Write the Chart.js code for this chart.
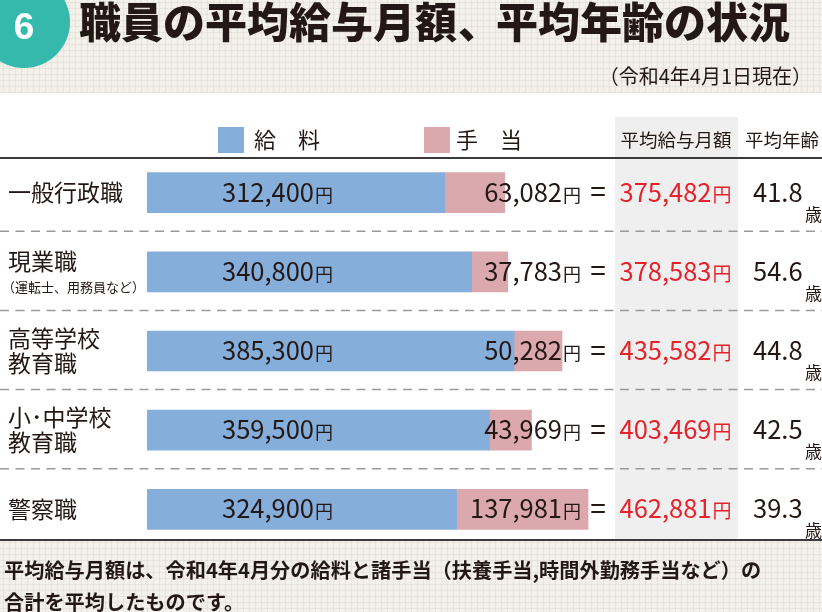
<!DOCTYPE html>
<html lang="ja">
<head>
<meta charset="utf-8">
<script src="https://cdn.jsdelivr.net/npm/chart.js@4/dist/chart.umd.min.js"></script>
<style>
  html, body { margin: 0; padding: 0; background: #fff; }
</style>
</head>
<body>
<canvas id="salaryChart" width="822" height="612"></canvas>
<script>
// 職員の平均給与月額、平均年齢 (令和4年4月1日現在)
const categories = ['一般行政職', '現業職', '高等学校教育職', '小･中学校教育職', '警察職'];
const labelLines = [
    ['一般行政職'],
    ['現業職', '（運転士、用務員など）'],
    ['高等学校', '教育職'],
    ['小･中学校', '教育職'],
    ['警察職']
];
const kyuryo = [312400, 340800, 385300, 359500, 324900];   // 給料
const teate = [63082, 37783, 50282, 43969, 137981];        // 手当
const heikin = [375482, 378583, 435582, 403469, 462881];   // 平均給与月額
const nenrei = [41.8, 54.6, 44.8, 42.5, 39.3];             // 平均年齢

const BLUE = '#85aedb';
const PINK = '#dba9ad';
const INK = '#231815';
const RED = '#e5232c';
const JP = '"Noto Sans CJK JP", "Noto Sans", sans-serif';

const fmt = v => v.toLocaleString('en-US');

// number + small 円
function yenText(ctx, num, x, y, align, color, numSize, yenSize) {
    ctx.font = numSize + 'px ' + JP;
    const w1 = ctx.measureText(num).width;
    ctx.font = yenSize + 'px ' + JP;
    const w2 = ctx.measureText('円').width;
    let left = x;
    if (align === 'right') left = x - w1 - w2;
    if (align === 'center') left = x - (w1 + w2) / 2;
    ctx.fillStyle = color;
    ctx.textAlign = 'left';
    ctx.textBaseline = 'alphabetic';
    ctx.font = numSize + 'px ' + JP;
    ctx.fillText(num, left, y);
    ctx.font = yenSize + 'px ' + JP;
    ctx.fillText('円', left + w1 + 1, y);
}

// linen-like tile for the beige areas
function linenPattern(ctx) {
    const c = document.createElement('canvas');
    c.width = 6; c.height = 6;
    const g = c.getContext('2d');
    g.fillStyle = '#f3f0ea';
    g.fillRect(0, 0, 6, 6);
    g.fillStyle = 'rgba(150,135,110,0.10)';
    g.fillRect(0, 2, 6, 1);
    g.fillRect(3, 0, 1, 6);
    g.fillStyle = 'rgba(255,255,255,0.5)';
    g.fillRect(1, 4, 1, 1);
    g.fillRect(5, 0, 1, 1);
    return ctx.createPattern(c, 'repeat');
}

const decorations = {
    id: 'decorations',
    beforeDraw(chart) {
        const ctx = chart.ctx;
        const yScale = chart.scales.y;
        ctx.save();
        ctx.fillStyle = '#ffffff';
        ctx.fillRect(0, 0, 822, 612);
        // beige header / footer areas
        ctx.fillStyle = linenPattern(ctx);
        ctx.fillRect(0, 0, 822, 93);
        ctx.fillRect(0, 541, 822, 71);
        // grey column behind 平均給与月額
        ctx.fillStyle = '#eeefee';
        ctx.fillRect(615, 117, 123, 423);

        // rules
        ctx.strokeStyle = '#3a3a3a';
        ctx.lineWidth = 2;
        ctx.beginPath();
        ctx.moveTo(0, 158); ctx.lineTo(822, 158);
        ctx.moveTo(0, 540); ctx.lineTo(822, 540);
        ctx.stroke();

        ctx.strokeStyle = '#9a9a9a';
        ctx.lineWidth = 1.5;
        ctx.setLineDash([9, 6.5]);
        for (let i = 0; i < categories.length - 1; i++) {
            const ym = (yScale.getPixelForValue(i) + yScale.getPixelForValue(i + 1)) / 2 - 1;
            ctx.beginPath();
            ctx.moveTo(0, ym); ctx.lineTo(822, ym);
            ctx.stroke();
        }
        ctx.restore();
    },
    afterDatasetsDraw(chart) {
        const ctx = chart.ctx;
        const metaBlue = chart.getDatasetMeta(0);
        ctx.save();

        // title block
        ctx.fillStyle = '#36b9ad';
        ctx.beginPath();
        ctx.arc(24, 22, 46, 0, Math.PI * 2);
        ctx.fill();
        ctx.fillStyle = '#ffffff';
        ctx.font = 'bold 37px "Liberation Sans Narrow", "Liberation Sans", sans-serif';
        ctx.textAlign = 'center';
        ctx.textBaseline = 'alphabetic';
        ctx.fillText('6', 24, 39);

        ctx.fillStyle = INK;
        ctx.font = '900 42px ' + JP;
        ctx.textAlign = 'left';
        ctx.textBaseline = 'middle';
        ctx.fillText('職員の平均給与月額', 79, 22);
        ctx.fillText('、', 458, 22);
        ctx.fillText('平均年齢の状況', 496, 22);

        ctx.font = '20px ' + JP;
        ctx.textAlign = 'right';
        ctx.fillText('（令和4年4月1日現在）', 812, 76);

        // legend + column heads
        ctx.fillStyle = BLUE;
        ctx.fillRect(218, 127, 26, 26);
        ctx.fillStyle = PINK;
        ctx.fillRect(424, 127, 26, 26);
        ctx.fillStyle = INK;
        ctx.textAlign = 'left';
        ctx.font = '22px ' + JP;
        ctx.fillText('給　料', 254, 140);
        ctx.fillText('手　当', 456, 140);
        ctx.font = '18.5px ' + JP;
        ctx.textAlign = 'center';
        ctx.fillText('平均給与月額', 676, 140);
        ctx.textAlign = 'left';
        ctx.fillText('平均年齢', 745, 140);

        // rows
        metaBlue.data.forEach((bar, i) => {
            const y = bar.y;
            // category label
            ctx.fillStyle = INK;
            ctx.textAlign = 'left';
            ctx.textBaseline = 'middle';
            const lines = labelLines[i];
            if (lines.length === 1) {
                ctx.font = '23px ' + JP;
                ctx.fillText(lines[0], 8, y);
            } else if (i === 1) {
                ctx.font = '23px ' + JP;
                ctx.fillText(lines[0], 8, y - 11);
                ctx.font = '13px ' + JP;
                ctx.fillText(lines[1], 2, y + 15);
            } else {
                ctx.font = '23px ' + JP;
                ctx.fillText(lines[0], 8, y - 13);
                ctx.fillText(lines[1], 8, y + 12);
            }

            const base = y + 9;
            yenText(ctx, fmt(kyuryo[i]), 222, base, 'left', INK, 25.5, 18);
            yenText(ctx, fmt(teate[i]), 580, base, 'right', INK, 25.5, 18);

            ctx.fillStyle = INK;
            ctx.font = '28px ' + JP;
            ctx.textAlign = 'center';
            ctx.textBaseline = 'middle';
            ctx.fillText('=', 598, y - 1);

            yenText(ctx, fmt(heikin[i]), 675, base, 'center', RED, 25.5, 19);

            ctx.fillStyle = INK;
            ctx.textAlign = 'left';
            ctx.textBaseline = 'alphabetic';
            ctx.font = '25.5px ' + JP;
            ctx.fillText(nenrei[i].toFixed(1), 753, base);
            ctx.font = '17px ' + JP;
            ctx.fillText('歳', 805, y + 28);
        });

        // footnote
        ctx.fillStyle = INK;
        ctx.font = 'bold 20.2px ' + JP;
        ctx.textAlign = 'left';
        ctx.textBaseline = 'middle';
        ctx.fillText('平均給与月額は、令和4年4月分の給料と諸手当（扶養手当,時間外勤務手当など）の', 4, 570);
        ctx.fillText('合計を平均したものです。', 4, 602);
        ctx.restore();
    }
};

const ctx = document.getElementById('salaryChart').getContext('2d');
const salaryChart = new Chart(ctx, {
    type: 'bar',
    data: {
        labels: categories,
        datasets: [{
            label: '給料',
            data: kyuryo,
            backgroundColor: BLUE,
            borderWidth: 0,
            barThickness: 40
        }, {
            label: '手当',
            data: teate,
            backgroundColor: PINK,
            borderWidth: 0,
            barThickness: 40
        }]
    },
    options: {
        indexAxis: 'y',
        responsive: false,
        animation: false,
        layout: {
            padding: { left: 147, right: 8, top: 153, bottom: 63 }
        },
        scales: {
            x: { stacked: true, display: false, min: 0, max: 700000 },
            y: { stacked: true, display: false }
        },
        plugins: {
            legend: { display: false },
            tooltip: { enabled: false }
        }
    },
    plugins: [decorations]
});
</script>
</body>
</html>
